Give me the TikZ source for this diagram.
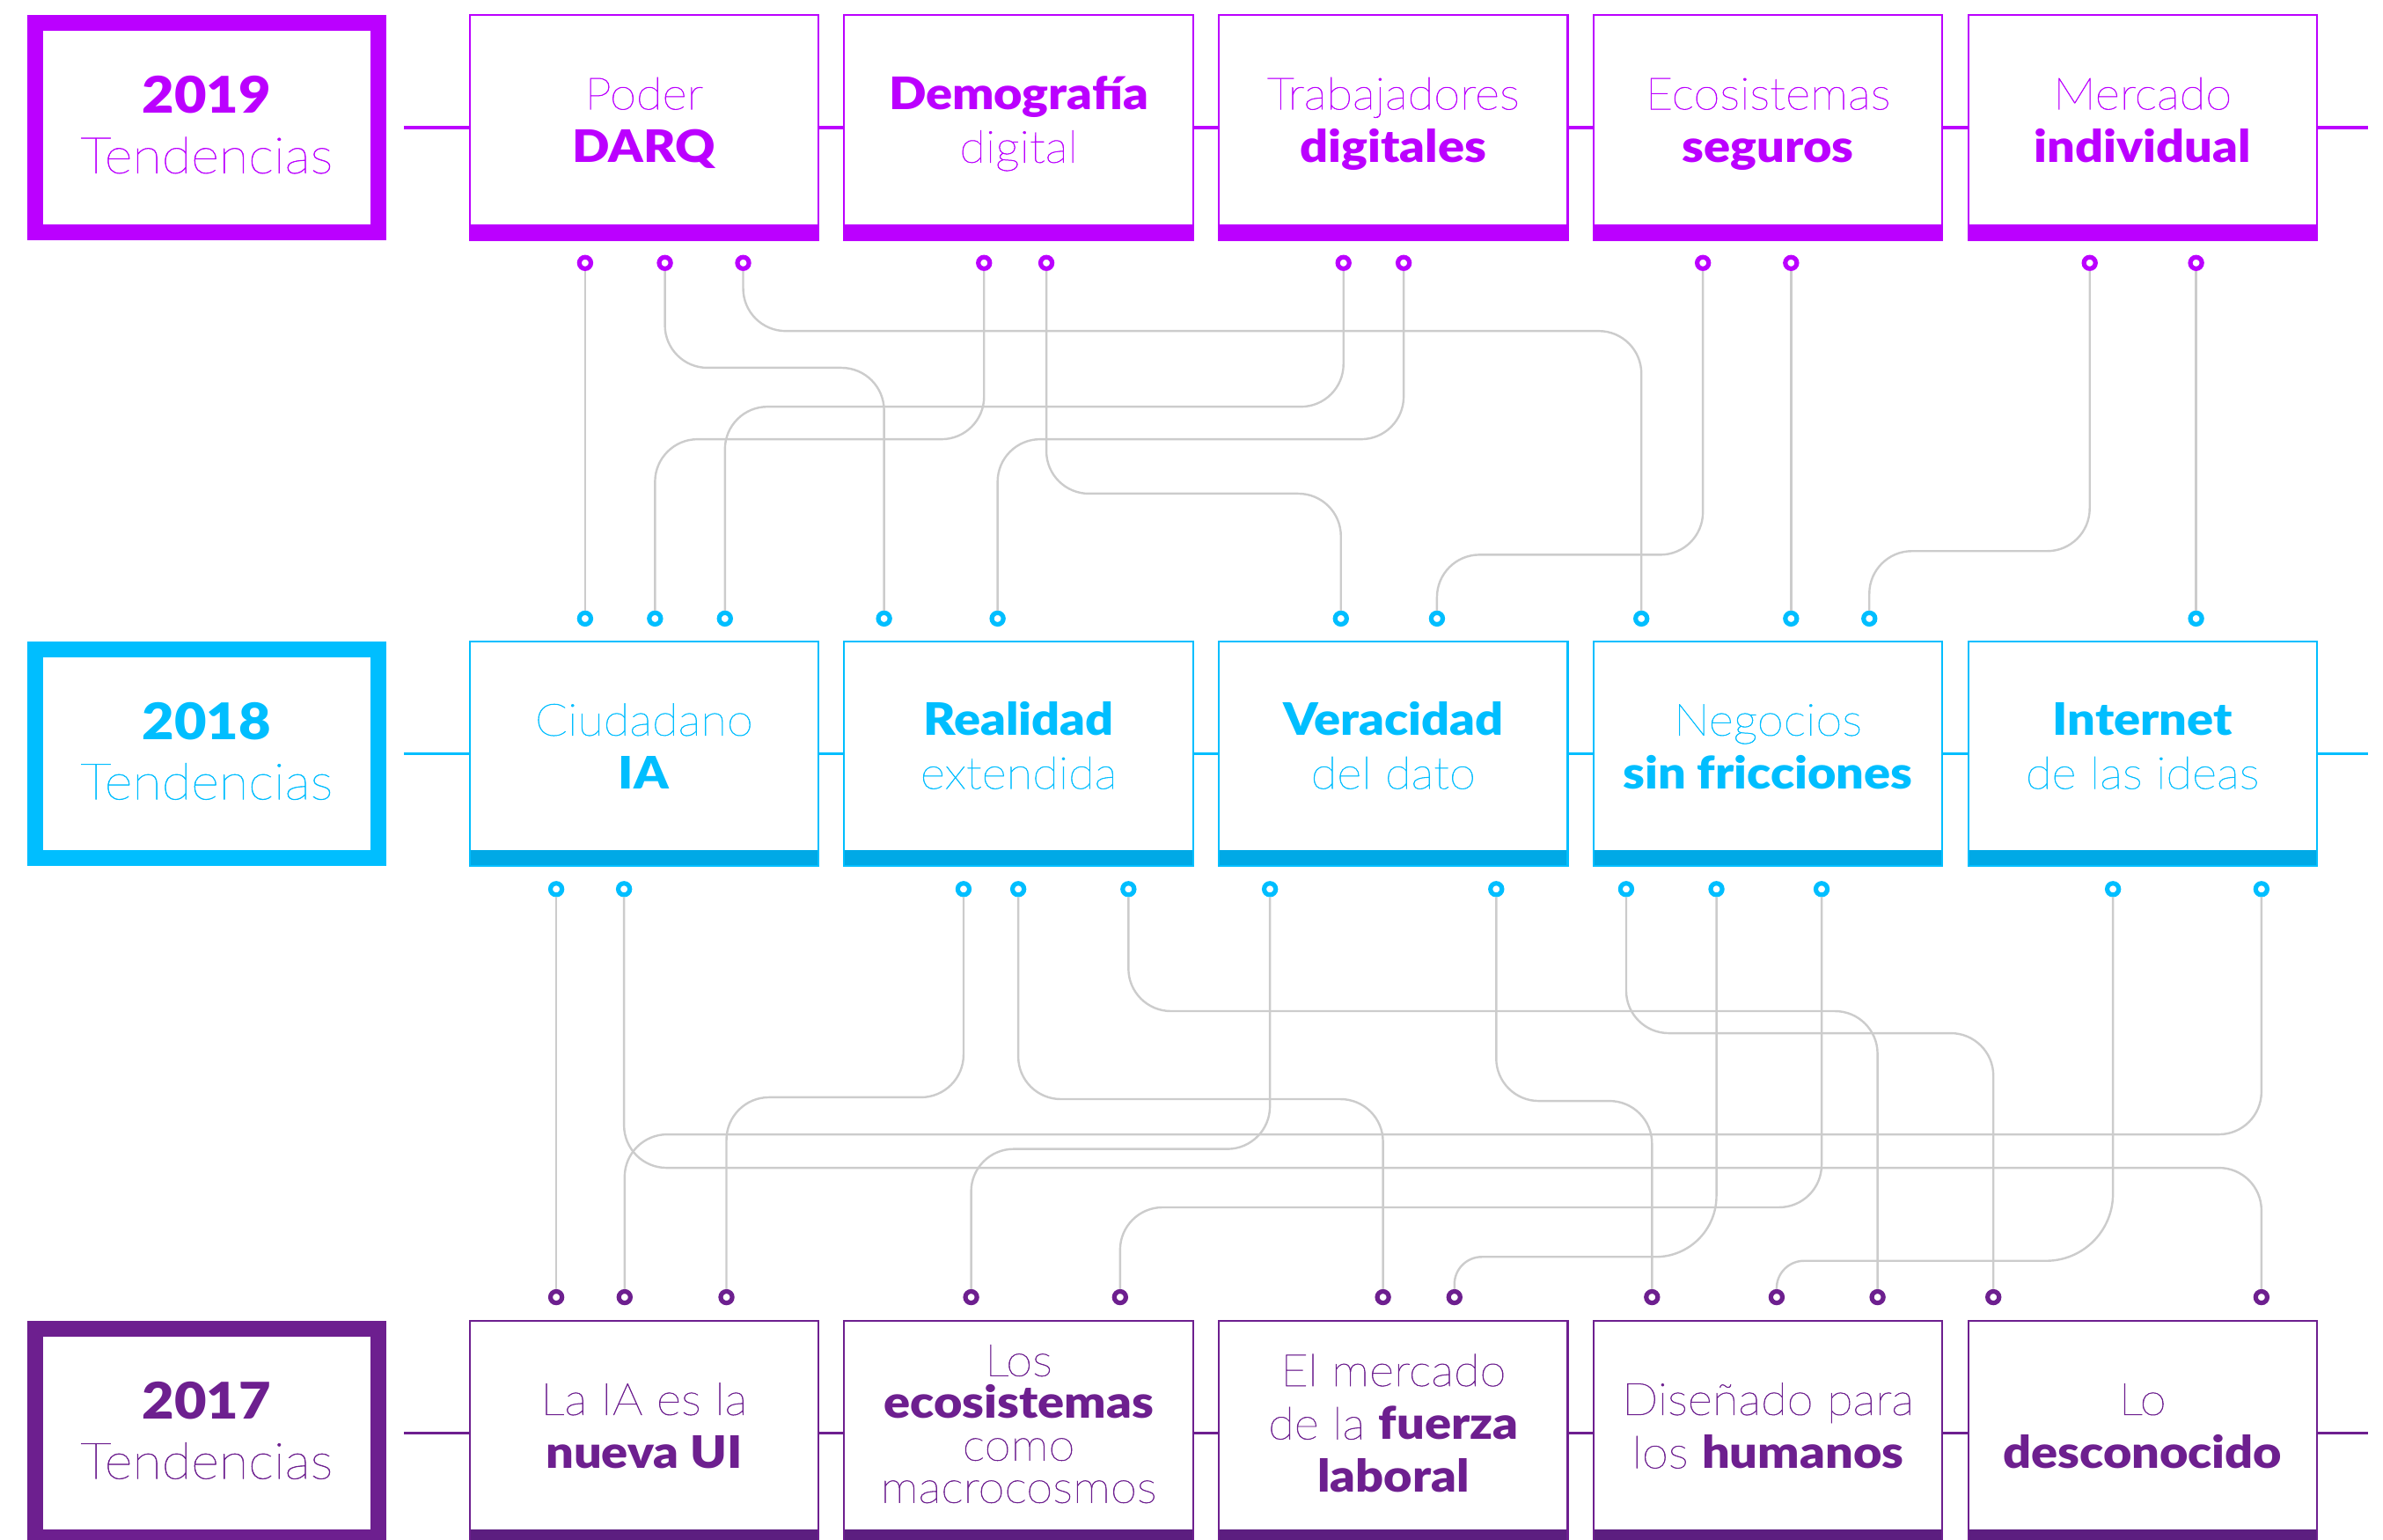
\documentclass[tikz,border=0pt]{standalone}
\usepackage{fontspec}
\setmainfont{Lato Thin}[UprightFeatures={FakeStretch=1.07, FakeBold=1}, BoldFont={Lato Black}, BoldFeatures={FakeStretch=1.1}]

\definecolor{violet19}{HTML}{BB00FF}
\definecolor{cyan18}{HTML}{00BEFF}
\definecolor{cyanbar}{HTML}{00A9E6}
\definecolor{plum17}{HTML}{6D1F8F}
\definecolor{plumbar}{HTML}{5C1E80}
\definecolor{wiregray}{HTML}{CCCCCC}

\tikzset{
  year/.style={draw=#1, text=#1, fill=white, line width=5.2pt, minimum width=112.8pt, minimum height=68.8pt,
    inner sep=0pt, align=center, font=\fontsize{16.6}{19.75}\selectfont, text height=36pt, text depth=6pt},
  trend/.style 2 args={draw=#1, text=#1, fill=white, line width=0.6pt, minimum width=114.75pt, minimum height=74pt,
    inner sep=0pt, align=center, font=\fontsize{14.7}{17.5}\selectfont, text height=28pt, text depth=5pt,
    path picture={\fill[#2] (path picture bounding box.south west) rectangle ([yshift=5.2pt]path picture bounding box.south east);}},
  ring/.style={circle, draw=#1, fill=white, line width=1.5pt, minimum size=3.8pt, inner sep=0pt},
  track/.style={#1, line width=1pt},
  wire/.style={wiregray, line width=0.7pt, rounded corners=14pt}
}

\begin{document}
\begin{tikzpicture}[x=0.5pt,y=-0.5pt]
  \useasboundingbox (0,0) rectangle (1568,1013);
  \clip (0,0) rectangle (1568,1013);

  % 2019
  \node[year=violet19] (y19) at (136,84) {\textbf{2019}\\Tendencias};
  \node[trend={violet19}{violet19}] (darq) at (423.75,84) {Poder\\\textbf{DARQ}};
  \node[trend={violet19}{violet19}] (demo) at (670.25,84) {\textbf{Demografía}\\digital};
  \node[trend={violet19}{violet19}] (trab) at (916.75,84) {Trabajadores\\\textbf{digitales}};
  \node[trend={violet19}{violet19}] (ecos) at (1163.25,84) {Ecosistemas\\\textbf{seguros}};
  \node[trend={violet19}{violet19}] (merc) at (1409.75,84) {Mercado\\\textbf{individual}};
  \coordinate (end19) at (1558,84);
  \draw[track=violet19, shorten <=6pt] (y19) -- (darq);
  \draw[track=violet19] (darq) -- (demo) (demo) -- (trab) (trab) -- (ecos) (ecos) -- (merc) (merc) -- (end19);

  % 2018
  \node[year=cyan18] (y18) at (136,496) {\textbf{2018}\\Tendencias};
  \node[trend={cyan18}{cyanbar}] (ciud) at (423.75,496) {Ciudadano\\\textbf{IA}};
  \node[trend={cyan18}{cyanbar}] (real) at (670.25,496) {\textbf{Realidad}\\extendida};
  \node[trend={cyan18}{cyanbar}] (vera) at (916.75,496) {\textbf{Veracidad}\\del dato};
  \node[trend={cyan18}{cyanbar}] (nego) at (1163.25,496) {Negocios\\\textbf{sin fricciones}};
  \node[trend={cyan18}{cyanbar}] (inte) at (1409.75,496) {\textbf{Internet}\\de las ideas};
  \coordinate (end18) at (1558,496);
  \draw[track=cyan18, shorten <=6pt] (y18) -- (ciud);
  \draw[track=cyan18] (ciud) -- (real) (real) -- (vera) (vera) -- (nego) (nego) -- (inte) (inte) -- (end18);

  % 2017
  \node[year=plum17] (y17) at (136,943) {\textbf{2017}\\Tendencias};
  \node[trend={plum17}{plumbar}] (nuev) at (423.75,943) {La IA es la\\\textbf{nueva UI}};
  \node[trend={plum17}{plumbar}, font=\fontsize{14.7}{13.9}\selectfont, text height=50.8pt] (macr) at (670.25,943) {Los\\\textbf{ecosistemas}\\como\\macrocosmos};
  \node[trend={plum17}{plumbar}, text height=44pt] (fuer) at (916.75,943) {El mercado\\de la \textbf{fuerza}\\\textbf{laboral}};
  \node[trend={plum17}{plumbar}] (huma) at (1163.25,943) {Diseñado para\\los \textbf{humanos}};
  \node[trend={plum17}{plumbar}] (desc) at (1409.75,943) {Lo\\\textbf{desconocido}};
  \coordinate (end17) at (1558,943);
  \draw[track=plum17, shorten <=6pt] (y17) -- (nuev);
  \draw[track=plum17] (nuev) -- (macr) (macr) -- (fuer) (fuer) -- (huma) (huma) -- (desc) (desc) -- (end17);

  % rings under 2019 and over 2018
  \node[ring=violet19] (a1) at (385,173) {};    \node[ring=violet19] (a2) at (437.5,173) {};
  \node[ring=violet19] (a3) at (489,173) {};    \node[ring=violet19] (a4) at (647.5,173) {};
  \node[ring=violet19] (a5) at (688.5,173) {};  \node[ring=violet19] (a6) at (884,173) {};
  \node[ring=violet19] (a7) at (923.6,173) {};  \node[ring=violet19] (a8) at (1120.5,173) {};
  \node[ring=violet19] (a9) at (1178.5,173) {}; \node[ring=violet19] (a10) at (1375,173) {};
  \node[ring=violet19] (a11) at (1445,173) {};
  \node[ring=cyan18] (b1) at (385,407) {};      \node[ring=cyan18] (b2) at (431,407) {};
  \node[ring=cyan18] (b3) at (477,407) {};      \node[ring=cyan18] (b4) at (581.7,407) {};
  \node[ring=cyan18] (b5) at (656.4,407) {};    \node[ring=cyan18] (b6) at (882.3,407) {};
  \node[ring=cyan18] (b7) at (945.5,407) {};    \node[ring=cyan18] (b8) at (1080,407) {};
  \node[ring=cyan18] (b9) at (1178.5,407) {};   \node[ring=cyan18] (b10) at (1230,407) {};
  \node[ring=cyan18] (b11) at (1445,407) {};

  % rings under 2018 and over 2017
  \node[ring=cyan18] (c1) at (366,585) {};      \node[ring=cyan18] (c2) at (410.6,585) {};
  \node[ring=cyan18] (c3) at (634,585) {};      \node[ring=cyan18] (c4) at (670,585) {};
  \node[ring=cyan18] (c5) at (742.5,585) {};    \node[ring=cyan18] (c6) at (835.6,585) {};
  \node[ring=cyan18] (c7) at (984.5,585) {};    \node[ring=cyan18] (c8) at (1070,585) {};
  \node[ring=cyan18] (c9) at (1129.4,585) {};   \node[ring=cyan18] (c10) at (1198.6,585) {};
  \node[ring=cyan18] (c11) at (1390.3,585) {};  \node[ring=cyan18] (c12) at (1488,585) {};
  \node[ring=plum17] (d1) at (366,853.5) {};    \node[ring=plum17] (d2) at (411,853.5) {};
  \node[ring=plum17] (d3) at (478,853.5) {};    \node[ring=plum17] (d4) at (639,853.5) {};
  \node[ring=plum17] (d5) at (737,853.5) {};    \node[ring=plum17] (d6) at (910,853.5) {};
  \node[ring=plum17] (d7) at (957,853.5) {};    \node[ring=plum17] (d8) at (1087,853.5) {};
  \node[ring=plum17] (d9) at (1169,853.5) {};   \node[ring=plum17] (d10) at (1235.4,853.5) {};
  \node[ring=plum17] (d11) at (1311.6,853.5) {};\node[ring=plum17] (d12) at (1488,853.5) {};

  % 2019 -> 2018
  \draw[wire] (a1) -- (b1);
  \draw[wire] (a2) -- (a2 |- 0,242) -- (b4 |- 0,242) -- (b4);
  \draw[wire] (a3) -- (a3 |- 0,217.8) -- (b8 |- 0,217.8) -- (b8);
  \draw[wire] (a4) -- (a4 |- 0,289) -- (b2 |- 0,289) -- (b2);
  \draw[wire] (a5) -- (a5 |- 0,324.8) -- (b6 |- 0,324.8) -- (b6);
  \draw[wire] (a6) -- (a6 |- 0,267.6) -- (b3 |- 0,267.6) -- (b3);
  \draw[wire] (a7) -- (a7 |- 0,289) -- (b5 |- 0,289) -- (b5);
  \draw[wire] (a8) -- (a8 |- 0,365) -- (b7 |- 0,365) -- (b7);
  \draw[wire] (a9) -- (b9);
  \draw[wire] (a10) -- (a10 |- 0,362.6) -- (b10 |- 0,362.6) -- (b10);
  \draw[wire] (a11) -- (b11);

  % 2018 -> 2017
  \draw[wire] (c1) -- (d1);
  \draw[wire] (c2) -- (c2 |- 0,768.4) -- (d12 |- 0,768.4) -- (d12);
  \draw[wire] (c3) -- (c3 |- 0,722) -- (d3 |- 0,722) -- (d3);
  \draw[wire] (c4) -- (c4 |- 0,723.2) -- (d6 |- 0,723.2) -- (d6);
  \draw[wire] (c5) -- (c5 |- 0,665.3) -- (d10 |- 0,665.3) -- (d10);
  \draw[wire] (c6) -- (c6 |- 0,756) -- (d4 |- 0,756) -- (d4);
  \draw[wire] (c7) -- (c7 |- 0,724.4) -- (d8 |- 0,724.4) -- (d8);
  \draw[wire] (c8) -- (c8 |- 0,679.8) -- (d11 |- 0,679.8) -- (d11);
  \draw[wire] (c9) [rounded corners=20pt] -- (c9 |- 0,827) [rounded corners=9pt] -- (d7 |- 0,827) -- (d7);
  \draw[wire] (c10) -- (c10 |- 0,794.4) -- (d5 |- 0,794.4) -- (d5);
  \draw[wire] (c11) [rounded corners=22pt] -- (c11 |- 0,829.6) [rounded corners=9pt] -- (d9 |- 0,829.6) -- (d9);
  \draw[wire] (c12) -- (c12 |- 0,746.4) -- (d2 |- 0,746.4) -- (d2);
\end{tikzpicture}
\end{document}
